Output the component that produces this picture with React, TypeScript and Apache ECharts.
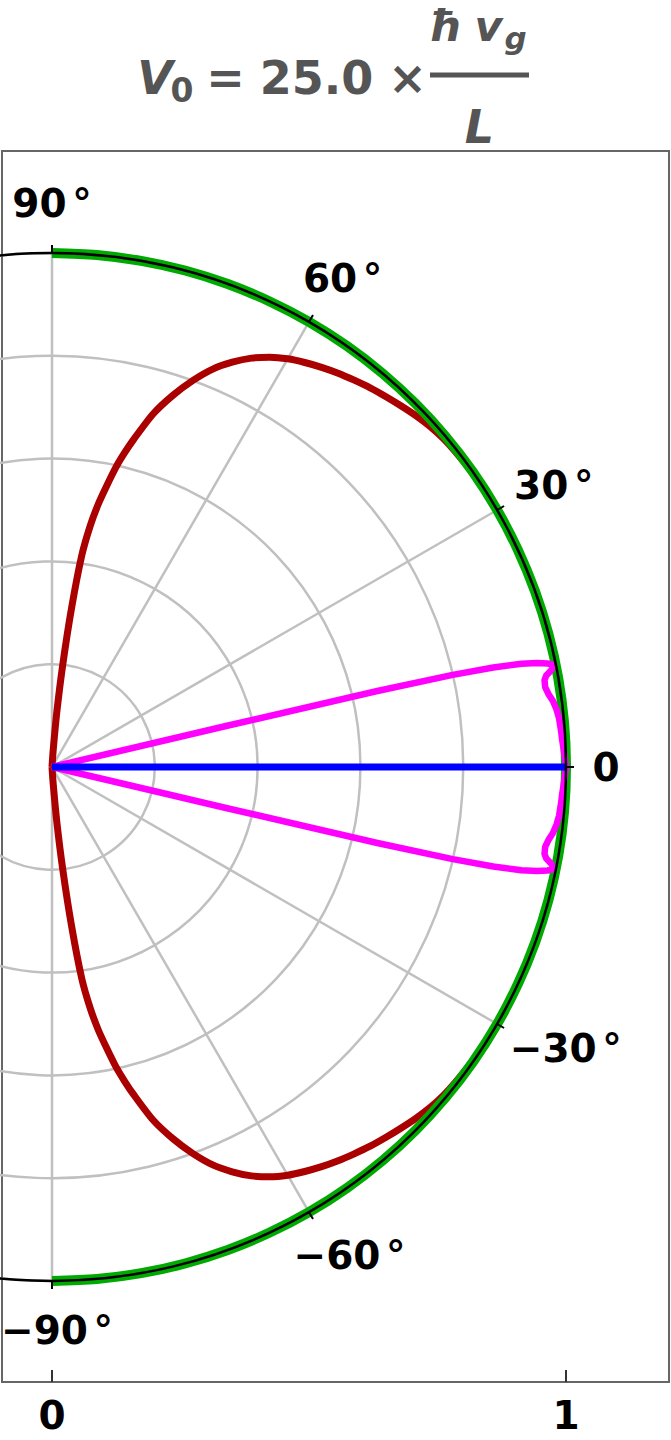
import React, { useEffect, useRef } from 'react';
import * as echarts from 'echarts';

// ---- data ----
const angleTicks = [90, 60, 30, 0, -30, -60, -90];
const angleTickLabels = ['90', '60', '30', '0', '\u221230', '\u221260', '\u221290'];
const gridAngles = [-90, -60, -30, 0, 30, 60, 90];
const frameTickValues = [0, 1];
const frameTickLabels = ['0', '1'];

const greenTheta = [-90, -85, -80, -75, -70, -65, -60, -55, -50, -45, -40, -35, -30, -25, -20, -15, -10, -5, 0, 5, 10, 15, 20, 25, 30, 35, 40, 45, 50, 55, 60, 65, 70, 75, 80, 85, 90];
const greenR = [1, 1, 1, 1, 1, 1, 1, 1, 1, 1, 1, 1, 1, 1, 1, 1, 1, 1, 1, 1, 1, 1, 1, 1, 1, 1, 1, 1, 1, 1, 1, 1, 1, 1, 1, 1, 1];

const redTheta = [-90, -87, -86, -85, -84, -83, -82, -81, -80, -79, -78, -77, -76, -74, -72, -70, -68, -66, -64, -62, -60, -58, -56, -54, -52, -50, -48, -46, -44, -42, -40, -38, -35, -30, -25, -20, -10, 0,
  10, 20, 25, 30, 35, 38, 40, 42, 44, 46, 48, 50, 52, 54, 56, 58, 60, 62, 64, 66, 68, 70, 72, 74, 76, 77, 78, 79, 80, 81, 82, 83, 84, 85, 86, 87, 90];
const redR = [0, 0, 0.03, 0.105, 0.2, 0.31, 0.415, 0.475, 0.52, 0.557, 0.595, 0.627, 0.657, 0.715, 0.76, 0.8, 0.835, 0.862, 0.885, 0.903, 0.917, 0.928, 0.938, 0.947, 0.955, 0.963, 0.97, 0.977, 0.984, 0.99, 0.994, 0.996, 0.998, 0.999, 1, 1, 1, 1,
  1, 1, 1, 0.999, 0.998, 0.996, 0.994, 0.99, 0.984, 0.977, 0.97, 0.963, 0.955, 0.947, 0.938, 0.928, 0.917, 0.903, 0.885, 0.862, 0.835, 0.8, 0.76, 0.715, 0.657, 0.627, 0.595, 0.557, 0.52, 0.475, 0.415, 0.31, 0.2, 0.105, 0.03, 0, 0];

const magentaTheta = [-13.35, -13.25, -13.15, -12.95, -12.7, -12.4, -12.1, -11.8, -11.5, -11, -10.5, -10, -9.2, -8.4, -7.5, -6.5, -5.5, -4, -3, -2, -1, 0,
  1, 2, 3, 4, 5.5, 6.5, 7.5, 8.4, 9.2, 10, 10.5, 11, 11.5, 11.8, 12.1, 12.4, 12.7, 12.95, 13.15, 13.25, 13.35];
const magentaR = [0, 0.35, 0.65, 0.8, 0.88, 0.935, 0.965, 0.985, 0.997, 0.99, 0.978, 0.973, 0.972, 0.976, 0.983, 0.988, 0.991, 0.993, 0.994, 0.996, 0.998, 1,
  0.998, 0.996, 0.994, 0.993, 0.991, 0.988, 0.983, 0.976, 0.972, 0.973, 0.978, 0.99, 0.997, 0.985, 0.965, 0.935, 0.88, 0.8, 0.65, 0.35, 0];

const blueTheta = [0, 0];
const blueR = [0, 1];

const FONT = '"DejaVu Sans", sans-serif';
const TITLE_COLOR = '#555555';

export default function App() {
  const ref = useRef<HTMLDivElement>(null);

  useEffect(() => {
    document.body.style.margin = '0';
    const el = ref.current!;
    const chart = echarts.init(el, null, { renderer: 'svg' });

    const CX = 52;
    const CY = 767;
    const R = 514;
    const OUTER = 1.1; // second (invisible) polar used for the curves, so thick lines at r=1 are not clipped
    const LABEL_SIZE = 39;
    const LABEL_R = 1.085;
    const SPACE_SIZE = 16;

    const ctx = document.createElement('canvas').getContext('2d')!;
    const measure = (s: string, size: number) => {
      ctx.font = `bold ${size}px "DejaVu Sans"`;
      return ctx.measureText(s).width;
    };

    const labelData = angleTicks.map((a, i) => {
      const t = angleTickLabels[i];
      const hasDeg = a !== 0;
      const w = measure(t, LABEL_SIZE) + (hasDeg ? measure(' ', SPACE_SIZE) + measure('\u00b0', LABEL_SIZE) : 0);
      const rad = (a * Math.PI) / 180;
      const c = Math.cos(rad);
      const s = Math.sin(rad);
      let dx = 0.85 * c * (w / 2 - 12) - 5 * Math.pow(c, 8);
      const dy = -6 * s;
      const cx = CX + R * LABEL_R * c + dx;
      if (cx - w / 2 < 1) dx += 1 - (cx - w / 2);
      return { value: [LABEL_R, a], name: t, deg: hasDeg, label: { offset: [dx, dy] } };
    });

    const zip = (rs: number[], ts: number[]) => rs.map((r, i) => [r, ts[i]]);

    const GRID_COLOR = '#c0c0c0';
    const gridSeries = gridAngles.map((a) => ({
      type: 'line',
      coordinateSystem: 'polar',
      polarIndex: 0,
      data: [[0, a], [1, a]],
      symbol: 'none',
      silent: true,
      z: 1,
      lineStyle: { color: GRID_COLOR, width: 2.5 },
    }));

    const labelStyle = { fontFamily: FONT, fontWeight: 'bold', fontSize: LABEL_SIZE, color: '#000' };
    const titleText = (text: string, x: number, y: number, size: number, italic: boolean) => ({
      type: 'text',
      x,
      y,
      style: {
        text,
        fontFamily: FONT,
        fontWeight: 'bold',
        fontStyle: italic ? 'italic' : 'normal',
        fontSize: size,
        lineHeight: size * 0.85,
        fill: TITLE_COLOR,
        align: 'center',
        verticalAlign: 'middle',
      },
    });

    const hiddenAxis = {
      show: false,
      axisLine: { show: false },
      axisTick: { show: false },
      axisLabel: { show: false },
      splitLine: { show: false },
    };

    const option: any = {
      animation: false,
      grid: {
        show: true,
        left: 2,
        right: 2,
        top: 151,
        bottom: 58,
        borderColor: '#666666',
        borderWidth: 2,
      },
      xAxis: {
        type: 'value',
        min: -(CX - 2) / R,
        max: (669 - CX) / R,
        axisLine: { show: false },
        splitLine: { show: false },
        axisTick: {
          show: true,
          inside: true,
          length: 12,
          customValues: frameTickValues,
          lineStyle: { color: '#333', width: 2 },
        },
        axisLabel: {
          show: true,
          customValues: frameTickValues,
          formatter: (v: number) => frameTickLabels[frameTickValues.indexOf(Math.round(v))] ?? '',
          margin: 14,
          ...labelStyle,
        },
      },
      yAxis: { type: 'value', show: false },
      polar: [
        { center: [CX, CY], radius: R },
        { center: [CX, CY], radius: R * OUTER },
      ],
      angleAxis: [
        {
          polarIndex: 0,
          type: 'value',
          min: -180,
          max: 180,
          startAngle: 180,
          clockwise: false,
          interval: 30,
          z: 10,
          axisLine: { show: true, lineStyle: { color: '#000', width: 2.5 } },
          axisTick: { show: true, length: 8, lineStyle: { color: '#000', width: 2 } },
          axisLabel: { show: false },
          splitLine: { show: false },
        },
        {
          polarIndex: 1,
          type: 'value',
          min: -180,
          max: 180,
          startAngle: 180,
          clockwise: false,
          ...hiddenAxis,
        },
      ],
      radiusAxis: [
        {
          polarIndex: 0,
          type: 'value',
          min: 0,
          max: 1,
          interval: 0.2,
          axisLine: { show: false },
          axisTick: { show: false },
          axisLabel: { show: false },
          splitLine: { show: true, lineStyle: { color: GRID_COLOR, width: 2.5 } },
        },
        {
          polarIndex: 1,
          type: 'value',
          min: 0,
          max: OUTER,
          ...hiddenAxis,
        },
      ],
      series: [
        ...gridSeries,
        {
          type: 'line',
          coordinateSystem: 'polar',
          polarIndex: 1,
          data: zip(redR, redTheta),
          symbol: 'none',
          smooth: 0.25,
          z: 2,
          lineStyle: { color: '#aa0000', width: 7, join: 'round' },
        },
        {
          type: 'line',
          coordinateSystem: 'polar',
          polarIndex: 1,
          data: zip(greenR, greenTheta),
          symbol: 'none',
          smooth: 0.3,
          z: 3,
          lineStyle: { color: '#00aa00', width: 10 },
        },
        {
          type: 'line',
          coordinateSystem: 'polar',
          polarIndex: 1,
          data: zip(magentaR, magentaTheta),
          symbol: 'none',
          z: 4,
          lineStyle: { color: '#ff00ff', width: 6.5, join: 'round' },
        },
        {
          type: 'line',
          coordinateSystem: 'polar',
          polarIndex: 1,
          data: zip(blueR, blueTheta),
          symbol: 'none',
          z: 5,
          lineStyle: { color: '#0000ff', width: 7 },
        },
        {
          type: 'scatter',
          coordinateSystem: 'polar',
          polarIndex: 1,
          data: labelData,
          symbolSize: 1,
          clip: false,
          itemStyle: { color: 'transparent', opacity: 1 },
          silent: true,
          z: 11,
          label: {
            show: true,
            position: 'inside',
            align: 'center',
            verticalAlign: 'middle',
            opacity: 1,
            ...labelStyle,
            formatter: (p: any) =>
              p.data.deg ? `{n|${p.name}}{s| }{d|\u00b0}` : `{n|${p.name}}`,
            rich: {
              n: { ...labelStyle },
              s: { fontFamily: FONT, fontSize: SPACE_SIZE, color: '#000' },
              d: { ...labelStyle },
            },
          },
        },
      ],
      graphic: [
        titleText('V', 155, 78, 46, true),
        titleText('0', 182, 90.5, 33, false),
        titleText('=', 225.5, 78, 46, false),
        titleText('25.0', 316.5, 78, 46, false),
        titleText('\u00d7', 407.5, 78, 46, false),
        { type: 'rect', shape: { x: 430, y: 72.5, width: 99, height: 5 }, style: { fill: TITLE_COLOR } },
        titleText('\u0127', 445, 26, 43, true),
        titleText('v', 488.5, 26, 43, true),
        titleText('g', 515.5, 37.5, 31, true),
        titleText('L', 479.5, 127, 46, true),
      ],
    };

    chart.setOption(option);
    return () => {
      chart.dispose();
    };
  }, []);

  return <div ref={ref} style={{ width: 671, height: 1440 }} />;
}
